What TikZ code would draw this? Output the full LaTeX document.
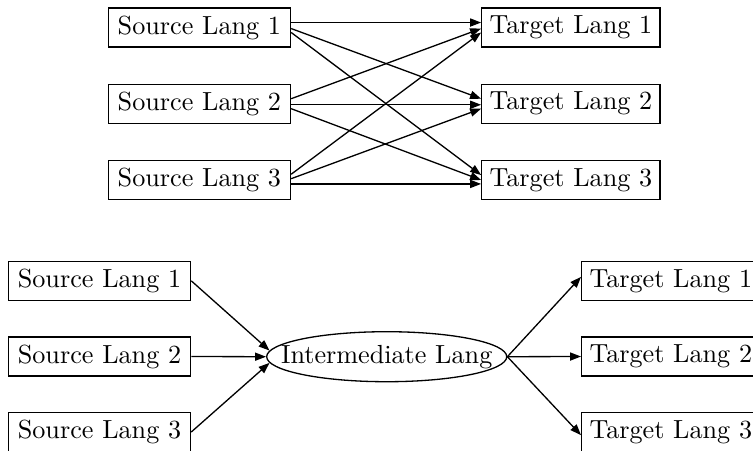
\documentclass[tikz,border=0pt]{standalone}
\usetikzlibrary{arrows.meta,shapes.geometric}
\begin{document}
\begin{tikzpicture}[x=0.382pt,y=-0.382pt,
  line width=0.5pt,
  lang/.style={draw,inner sep=0pt,minimum height=14.9pt},
  srcbox/.style={lang,minimum width=69.6pt},
  tgtbox/.style={lang,minimum width=68.1pt},
  mid/.style={draw,ellipse,inner sep=0pt,minimum width=91.7pt,minimum height=19.1pt},
  link/.style={-{Triangle[length=4.2pt,width=3.1pt]}}]
\clip (0,0) rectangle (753,450);

% all-pairs translation
\node[srcbox] (a1) at (199.4,27.5)  {Source Lang 1};
\node[srcbox] (a2) at (199.4,103.7) {Source Lang 2};
\node[srcbox] (a3) at (199.4,180)   {Source Lang 3};
\node[tgtbox] (b1) at (570.9,27.5)  {Target Lang 1};
\node[tgtbox] (b2) at (570.9,103.7) {Target Lang 2};
\node[tgtbox] (b3) at (570.9,180)   {Target Lang 3};

\draw[link] ([yshift=1.9pt]a1.east)  -- ([yshift=1.9pt]b1.west);
\draw[link] ([yshift=-0.4pt]a1.east) -- ([yshift=1.9pt]b2.west);
\draw[link] ([yshift=-1.9pt]a1.east) -- ([yshift=1.9pt]b3.west);
\draw[link] ([yshift=1.9pt]a2.east)  -- ([yshift=-0.4pt]b1.west);
\draw[link] ([yshift=-0.4pt]a2.east) -- ([yshift=-0.4pt]b2.west);
\draw[link] ([yshift=-1.9pt]a2.east) -- ([yshift=0pt]b3.west);
\draw[link] ([yshift=2.2pt]a3.east)  -- ([yshift=-1.9pt]b1.west);
\draw[link] ([yshift=0.5pt]a3.east)  -- ([yshift=-1.9pt]b2.west);
\draw[link] ([yshift=-1.5pt]a3.east) -- ([yshift=-1.5pt]b3.west);

% pivot translation
\node[srcbox] (c1) at (99.5,280.8) {Source Lang 1};
\node[srcbox] (c2) at (99.5,356.5) {Source Lang 2};
\node[srcbox] (c3) at (99.5,432)   {Source Lang 3};
\node[mid] (m) at (386.7,356.7) {\makebox[0pt]{Intermediate Lang}};
\node[tgtbox] (d1) at (670.8,280.8) {Target Lang 1};
\node[tgtbox] (d2) at (670.8,356.5) {Target Lang 2};
\node[tgtbox] (d3) at (670.8,432)   {Target Lang 3};

\draw[link] (c1.east) -- (m.177);
\draw[link] (c2.east) -- (m.west);
\draw[link] (c3.east) -- (m.183);
\draw[link] (m.east) -- ([yshift=1.5pt]d1.west);
\draw[link] (m.east) -- (d2.west);
\draw[link] (m.east) -- ([yshift=-1.2pt]d3.west);
\end{tikzpicture}
\end{document}
